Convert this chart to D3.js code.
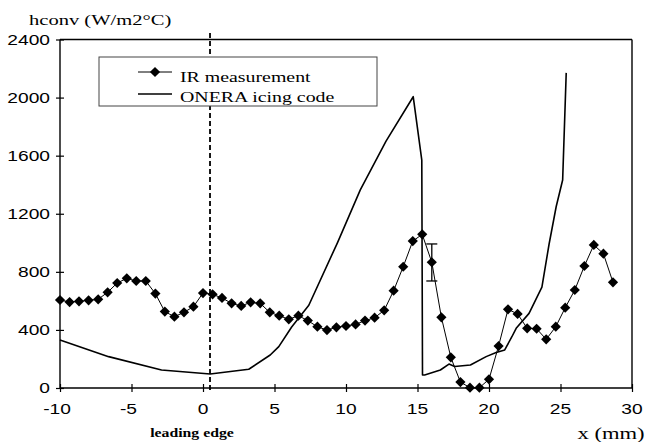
<!DOCTYPE html>
<html><head><meta charset="utf-8">
<script src="https://cdn.jsdelivr.net/npm/d3@7"></script>
<style>body{margin:0;background:#fff}svg{display:block}</style>
</head><body>
<svg id="c" width="653" height="442"></svg>
<script>
// ---- data ----
const irX = [-10,-9.33,-8.67,-8,-7.33,-6.67,-6,-5.33,-4.67,-4,-3.33,-2.67,-2,-1.33,-0.67,0,0.67,1.33,2,2.67,3.33,4,4.67,5.33,6,6.67,7.33,8,8.67,9.33,10,10.67,11.33,12,12.67,13.33,14,14.67,15.33,16,16.67,17.33,18,18.67,19.33,20,20.67,21.33,22,22.67,23.33,24,24.67,25.33,26,26.67,27.33,28,28.67];
const irY = [606,592,597,604,611,659,723,755,737,737,650,526,491,521,560,654,645,620,583,565,590,583,521,498,473,498,464,422,399,418,427,438,464,484,535,670,835,1012,1058,866,487,211,41,2,2,60,289,542,510,411,408,335,422,553,675,840,985,925,728];
const errX = [16];
const errLow = [737];
const errHigh = [992];
const oneraX = [-10,-6.6,-2.9,0.5,3.2,4.7,5.3,6.2,7.4,9.4,11.0,12.8,14.7,15.3,15.35,15.5,16.6,17.2,17.6,18.7,19.8,20.5,21.1,21.6,21.9,22.8,23.7,24.2,24.7,25.15,25.4];
const oneraY = [331,216,124,96,129,227,285,420,570,1000,1364,1700,2006,1570,90,90,124,165,148,158,216,245,262,353,411,514,695,990,1250,1432,2170];
const xTicks = [-10,-5,0,5,10,15,20,25,30];
const yTicks = [0,400,800,1200,1600,2000,2400];
const leadingEdgeX = 0.49;
const seriesNames = ["IR measurement","ONERA icing code"];

// ---- drawing ----
const svg = d3.select("#c");
const x = d3.scaleLinear().domain([-10,30]).range([60,632]);
const y = d3.scaleLinear().domain([0,2400]).range([388,39.5]);
const SX = 1.37;
function stext(g, tx, ty, str, opts){
  const t = g.append("text")
    .attr("transform", `translate(${tx},${ty}) scale(${SX},1)`)
    .attr("font-family", opts.family || "Liberation Serif")
    .attr("font-size", opts.size)
    .attr("font-weight", opts.weight || "normal")
    .attr("text-anchor", opts.anchor || "start")
    .attr("fill", "#000")
    .text(str);
  return t;
}

// frame (top and right)
svg.append("line").attr("x1",x(-10)).attr("x2",x(30)).attr("y1",y(2400)).attr("y2",y(2400)).attr("stroke","#000").attr("stroke-width",1.4);
svg.append("line").attr("x1",x(30)).attr("x2",x(30)).attr("y1",y(2400)).attr("y2",y(0)).attr("stroke","#000").attr("stroke-width",1.4);

// axes
const gx = svg.append("g").attr("transform",`translate(0,${y(0)})`)
  .call(d3.axisBottom(x).tickValues(xTicks).tickSize(4).tickFormat(""));
gx.selectAll(".tick line").attr("y1",-4).attr("stroke","#000").attr("stroke-width",1.2);
gx.select(".domain").attr("stroke","#000").attr("stroke-width",1.4).attr("d",`M${x(-10)},0H${x(30)}`);
const gy = svg.append("g").attr("transform",`translate(${x(-10)},0)`)
  .call(d3.axisLeft(y).tickValues(yTicks).tickSize(4).tickFormat(""));
gy.selectAll(".tick line").attr("x1",4).attr("stroke","#000").attr("stroke-width",1.2);
gy.select(".domain").attr("stroke","#000").attr("stroke-width",1.4).attr("d",`M0,${y(0)}V${y(2400)}`);

// tick labels
xTicks.forEach(v=>stext(svg, x(v)-(v<0?3:0), 414, String(v), {family:"Liberation Sans", size:14, anchor:"middle"}));
yTicks.forEach(v=>stext(svg, 50, y(v)+5, String(v), {family:"Liberation Sans", size:14, anchor:"end"}));

// axis titles
stext(svg, 29, 25, "hconv (W/m2°C)", {size:15});
stext(svg, 611, 439, "x (mm)", {size:16.5, anchor:"middle"});
stext(svg, 192, 437, "leading edge", {size:11.5, weight:"bold", anchor:"middle"});

// leading edge dashed line
svg.append("line").attr("x1",x(leadingEdgeX)).attr("x2",x(leadingEdgeX)).attr("y1",33).attr("y2",392)
  .attr("stroke","#000").attr("stroke-width",1.8).attr("stroke-dasharray","5,3");

// ONERA line
const onera = oneraX.map((v,i)=>[v,oneraY[i]]);
svg.append("path").datum(onera)
  .attr("d", d3.line().x(d=>x(d[0])).y(d=>y(d[1])).curve(d3.curveLinear))
  .attr("fill","none").attr("stroke","#000").attr("stroke-width",1.6).attr("stroke-linejoin","round");

// IR line and markers
const ir = irX.map((v,i)=>[v,irY[i]]);
svg.append("path").datum(ir)
  .attr("d", d3.line().x(d=>x(d[0])).y(d=>y(d[1])))
  .attr("fill","none").attr("stroke","#000").attr("stroke-width",1);
const diamond = d3.symbol().type(d3.symbolSquare).size(52);
svg.append("g").selectAll("path").data(ir).join("path")
  .attr("d", diamond)
  .attr("transform", d=>`translate(${x(d[0])},${y(d[1])}) rotate(45)`)
  .attr("fill","#000");

// error bar
errX.forEach((v,i)=>{
  const g = svg.append("g").attr("stroke","#000").attr("stroke-width",1.3);
  g.append("line").attr("x1",x(v)).attr("x2",x(v)).attr("y1",y(errLow[i])).attr("y2",y(errHigh[i]));
  g.append("line").attr("x1",x(v)-5.5).attr("x2",x(v)+5.5).attr("y1",y(errLow[i])).attr("y2",y(errLow[i]));
  g.append("line").attr("x1",x(v)-5.5).attr("x2",x(v)+5.5).attr("y1",y(errHigh[i])).attr("y2",y(errHigh[i]));
});

// legend
const lg = svg.append("g");
lg.append("rect").attr("x",99).attr("y",57).attr("width",278).attr("height",49)
  .attr("fill","#fff").attr("stroke","#444").attr("stroke-width",1);
lg.append("line").attr("x1",138).attr("x2",172).attr("y1",72).attr("y2",72).attr("stroke","#000").attr("stroke-width",1);
lg.append("path").attr("d",diamond).attr("transform","translate(155,72) rotate(45)").attr("fill","#000");
lg.append("line").attr("x1",138).attr("x2",172).attr("y1",94).attr("y2",94).attr("stroke","#000").attr("stroke-width",1.4);
stext(lg, 180, 82, seriesNames[0], {size:14.5});
stext(lg, 180, 102, seriesNames[1], {size:14.5});
</script>
</body></html>
